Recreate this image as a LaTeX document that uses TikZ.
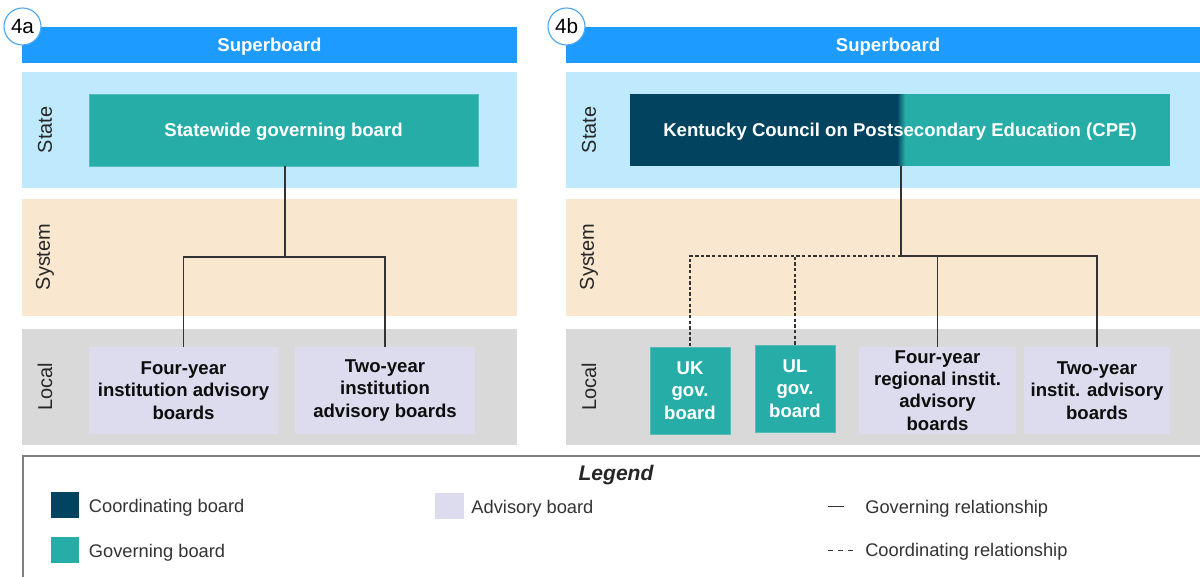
\documentclass[tikz,border=0pt]{standalone}
\usepackage{fontspec}
\setmainfont{Liberation Sans}
\usepackage{tikz}
\usetikzlibrary{positioning,calc}
\usepackage{xcolor}
\definecolor{superblue}{RGB}{30,155,255}
\definecolor{statebg}{RGB}{191,233,252}
\definecolor{systembg}{RGB}{249,232,207}
\definecolor{localbg}{RGB}{217,217,217}
\definecolor{govteal}{RGB}{39,173,168}
\definecolor{coorddark}{RGB}{2,67,96}
\definecolor{advlav}{RGB}{220,220,238}
\definecolor{tagblue}{RGB}{75,168,240}
\newcommand{\boxfont}{\fontsize{13.2}{15.8}\selectfont\bfseries}

\begin{document}
\begin{tikzpicture}[x=0.025cm, y=-0.025cm,
    board/.style={rectangle, inner sep=1pt, align=center, font=\boxfont, minimum height=2.175cm},
    govbox/.style={board, fill=govteal, draw=govteal!80!white, line width=0.4pt, text=white},
    advbox/.style={board, fill=advlav, text=black!95},
    onerow/.style={text depth=0pt},
    barbox/.style={rectangle, fill=superblue, text=white, font=\boxfont, minimum height=0.9cm, inner sep=0pt, onerow},
    bandlbl/.style={rotate=90, font=\fontsize{14.2}{16}\selectfont, text=black!85},
    tag/.style={circle, draw=tagblue, fill=white, line width=0.8pt, minimum size=0.925cm, inner sep=0pt, font=\fontsize{14.7}{16}\selectfont},
    relline/.style={draw=black!80, line width=0.75pt},
    coordline/.style={relline, dash pattern=on 2.4pt off 1.6pt},
    legkey/.style={rectangle, minimum width=0.72cm, minimum height=0.65cm, inner sep=0pt},
    legtext/.style={anchor=west, inner sep=0pt, yshift=-0.06cm, font=\fontsize{13}{15}\selectfont, text=black!80}]
    \useasboundingbox (0,0) rectangle (1200,577);
    \clip (0,0) rectangle (1200,577);

    % bands, 4a
    \fill[statebg] (22,72) rectangle (517,188);
    \fill[systembg] (22,199) rectangle (517,316);
    \fill[localbg] (22,329) rectangle (517,445);
    % bands, 4b
    \fill[statebg] (566,72) rectangle (1210,188);
    \fill[systembg] (566,199) rectangle (1210,316);
    \fill[localbg] (566,329) rectangle (1210,445);

    \node[barbox, minimum width=12.375cm] (sb4a) at (269.5,45) {Superboard};
    \node[barbox, minimum width=16.1cm] (sb4b) at (888,45) {Superboard};
    \node[tag] (tag4a) at (22.5,26.5) {4a};
    \node[tag] (tag4b) at (566.5,26.5) {4b};

    \node[bandlbl] (st4a) at (45,130) {State};
    \node[bandlbl] (sy4a) at (45,257) {System};
    \node[bandlbl] (lo4a) at (45,387) {Local};
    \node[bandlbl] (st4b) at (589,130) {State};
    \node[bandlbl] (sy4b) at (589,257) {System};
    \node[bandlbl] (lo4b) at (589,387) {Local};

    % 4a boards
    \node[govbox, onerow, minimum width=9.725cm, minimum height=1.8cm] (swb) at (283.5,130) {Statewide governing board};
    \node[advbox, minimum width=4.725cm] (fouryr) at (183.5,390.5) {Four-year\\institution advisory\\boards};
    \node[advbox, minimum width=4.5cm] (twoyr) at (385,390.5) {Two-year\\institution\\advisory boards};

    \coordinate (j4a) at (285,257);
    \draw[relline] (swb.south -| j4a) -- (j4a);
    \draw[relline] (j4a) -| (fouryr.north);
    \draw[relline] (j4a) -| (twoyr.north);

    % 4b boards: dark left half blending into teal
    \fill[coorddark] (630,94) rectangle (897,166);
    \foreach \k in {0,...,7}
        \pgfmathsetmacro{\mix}{100-\k*12.5}
        \fill[coorddark!\mix!govteal] (897+\k,94) rectangle (898.2+\k,166);
    \fill[govteal] (905,94) rectangle (1170,166);
    \node[govbox, onerow, fill=none, draw=none, minimum width=13.5cm, minimum height=1.8cm] (cpe) at (900,130) {Kentucky Council on Postsecondary Education (CPE)};
    \node[govbox, minimum width=2cm] (ukb) at (690,390.5) {UK\\gov.\\board};
    \node[govbox, minimum width=2cm] (ulb) at (795,388.5) {UL\\gov.\\board};
    \node[advbox, minimum width=3.925cm] (regyr) at (937.5,390.5) {Four-year\\regional instit.\\advisory\\boards};
    \node[advbox, minimum width=3.65cm] (twoyr4b) at (1097,390.5) {Two-year\\instit. advisory\\boards};

    \coordinate (j4b) at (901,256);
    \draw[relline] (cpe.south -| j4b) -- (j4b);
    \draw[coordline] (j4b) -| (ukb.north);
    \draw[coordline] (j4b) -| (ulb.north);
    \draw[relline] (j4b) -| (regyr.north);
    \draw[relline] (j4b) -| (twoyr4b.north);

    % legend
    \draw[draw=black!50, line width=0.8pt] (1210,456) -- (23,456) -- (23,590);
    \node[onerow, font=\fontsize{15}{17}\selectfont\bfseries\itshape, text=black!85] (legtitle) at (616,473) {Legend};
    \node[legkey, fill=coorddark] (kcoord) at (65,505) {};
    \node[legtext, right=0.225cm of kcoord] (tcoord) {Coordinating board};
    \node[legkey, fill=govteal] (kgov) at (65,550) {};
    \node[legtext, right=0.225cm of kgov] (tgov) {Governing board};
    \node[legkey, fill=advlav] (kadv) at (449.5,506) {};
    \node[legtext, right=0.175cm of kadv] (tadv) {Advisory board};
    \coordinate (lgov1) at (828,506);
    \coordinate (lgov2) at (844,506);
    \coordinate (lcoo1) at (828,550);
    \coordinate (lcoo2) at (853,550);
    \draw[draw=black!80, line width=0.6pt] (lgov1) -- (lgov2);
    \draw[draw=black!80, line width=0.6pt, dash pattern=on 3.5pt off 3.5pt] (lcoo1) -- (lcoo2);
    \node[legtext] (tgrel) at (865,506) {Governing relationship};
    \node[legtext] (tcrel) at (865,549) {Coordinating relationship};
\end{tikzpicture}
\end{document}
